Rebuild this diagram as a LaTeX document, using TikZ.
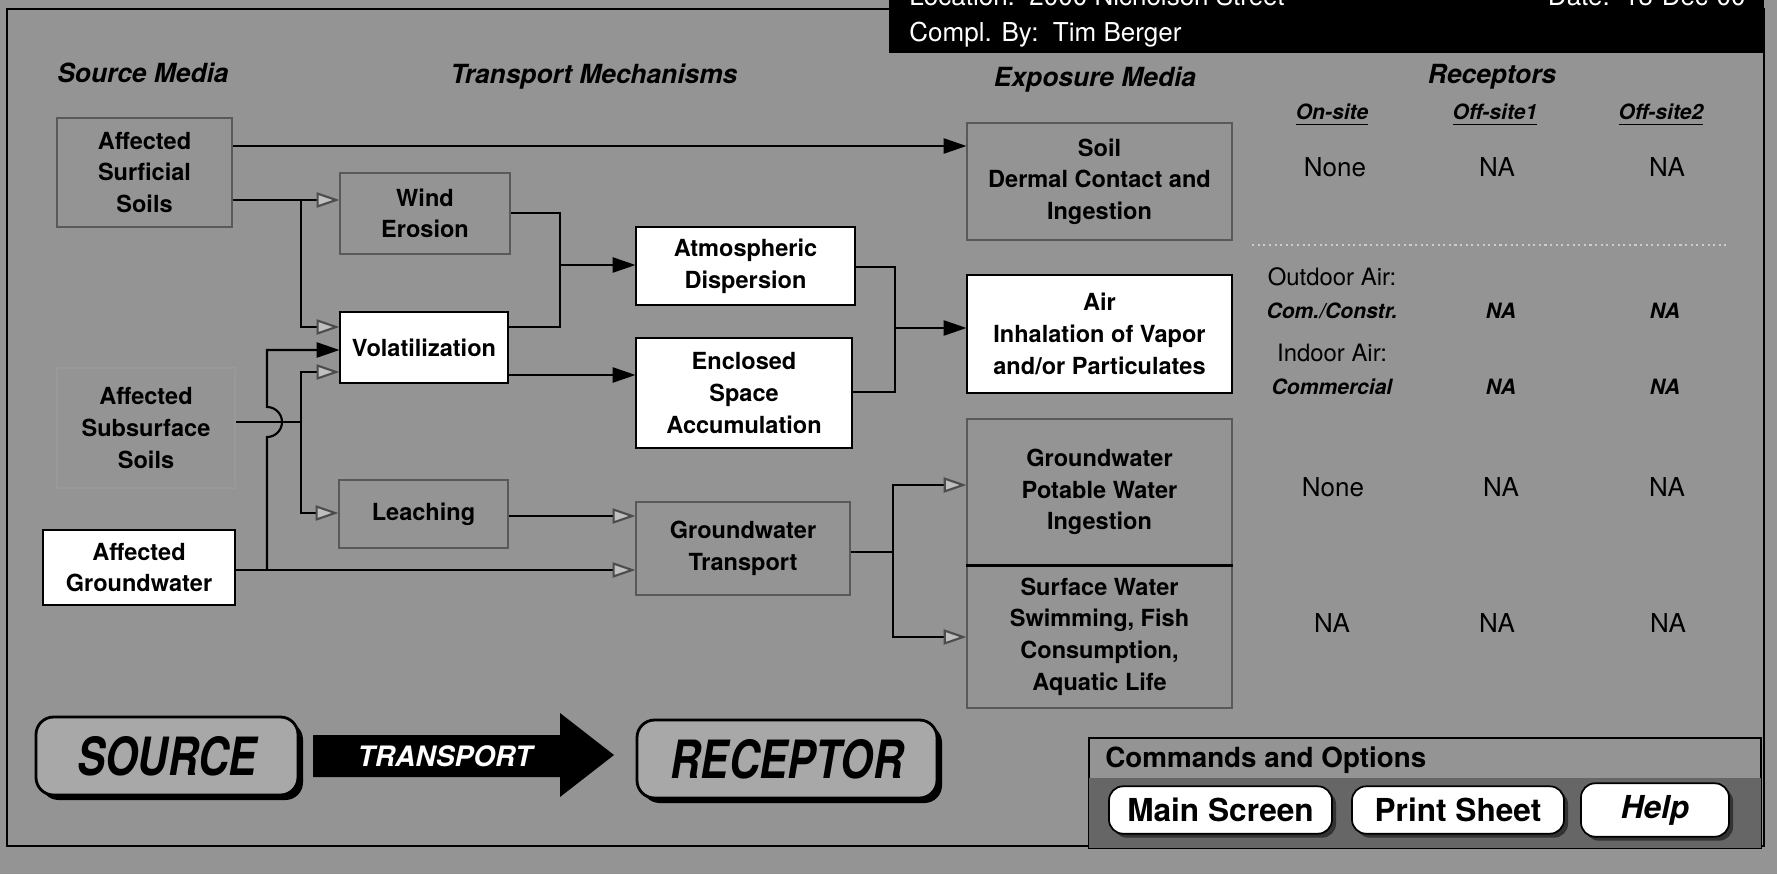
\documentclass[tikz,border=0pt]{standalone}
\usepackage{fontspec}
\setmainfont{TeX Gyre Heros}
\usepackage{graphicx}
\usetikzlibrary{arrows.meta,shadows}

\definecolor{screen}{gray}{0.58}
\definecolor{panel}{gray}{0.40}
\definecolor{raised}{gray}{0.66}
\newcommand\lbl{\fontsize{6.7}{9}\selectfont\bfseries}
\newcommand\hdr{\fontsize{7.5}{9}\selectfont\bfseries\itshape}
\newcommand\cell{\fontsize{7.4}{9}\selectfont}
\newcommand\cellbi{\fontsize{6}{7}\selectfont\bfseries\itshape}
\newcommand\bigit{\fontsize{15}{17}\selectfont\bfseries\itshape}

\begin{document}
\begin{tikzpicture}
    [x=0.1mm,y=-0.1mm,font=\lbl,
      box/.style={draw=black!65,line width=0.3pt,align=center,inner sep=0pt},
      wbox/.style={box,draw=black,fill=white},
      link/.style={line width=0.6pt},
      blk/.style={link,-{Triangle[length=6.5pt,width=4.3pt]}},
      gry/.style={link,-{Triangle[length=6.5pt,width=4.3pt,color=black!70,fill=black!25]}},
      slab/.style={draw,line width=0.8pt,rounded corners=5pt,fill=raised,
        drop shadow={shadow xshift=0.5mm,shadow yshift=-0.5mm,fill=black,opacity=1}},
      btn/.style={draw,line width=0.5pt,rounded corners=4pt,fill=white,minimum height=4mm,
        font=\fontsize{9}{10}\selectfont\bfseries,
        drop shadow={shadow xshift=0.4mm,shadow yshift=-0.4mm,fill=black!80,opacity=1}}
    ]

    \clip (0,0) rectangle (1777,874);
    \fill[screen] (0,0) rectangle (1777,874);
    \draw[line width=0.4pt] (7,9) rectangle (1764,846);

    % header bar
    \fill (889,-5) rectangle (1764,53);
    \node[anchor=base west,text=white,font=\cell] (loc) at (897,6) {Location:\ \ 2000 Nicholson Street};
    \node[anchor=base east,text=white,font=\cell] (date) at (1758,6) {Date:\ \ 13-Dec-00};
    \node[anchor=base west,text=white,font=\cell] (compl) at (897,42) {Compl. By:\ \ Tim Berger};

    \node[font=\hdr] (srchdr) at (143,73) {Source Media};
    \node[font=\hdr] (trhdr) at (594,77) {Transport Mechanisms};
    \node[font=\hdr] (exhdr) at (1095,80) {Exposure Media};
    \node[font=\hdr] (rchdr) at (1492,77) {Receptors};
    \node[font=\cellbi] (onsite) at (1332,115) {\underline{On-site}};
    \node[font=\cellbi] (off1) at (1495,115) {\underline{Off-site1}};
    \node[font=\cellbi] (off2) at (1661,115) {\underline{Off-site2}};

    % source media
    \node[box,minimum width=17.5mm,minimum height=10.9mm] (surf) at (144.5,172.5) {Affected\\Surficial\\Soils};
    \node[box,draw=black!40,minimum width=17.8mm,minimum height=12mm] (subs) at (146,428) {Affected\\Subsurface\\Soils};
    \node[wbox,minimum width=19.2mm,minimum height=7.5mm] (gw) at (139,567.5) {Affected\\Groundwater};

    % transport mechanisms
    \node[box,minimum width=17mm,minimum height=8.1mm] (we) at (425,213.5) {Wind\\Erosion};
    \node[wbox,minimum width=16.8mm,minimum height=7.1mm] (vol) at (424,347.5) {Volatilization};
    \node[box,minimum width=16.9mm,minimum height=6.8mm] (leach) at (423.5,514) {Leaching};
    \node[wbox,minimum width=21.9mm,minimum height=7.8mm] (atm) at (745.5,266) {Atmospheric\\Dispersion};
    \node[wbox,minimum width=21.6mm,minimum height=11mm] (encl) at (744,393) {Enclosed\\Space\\Accumulation};
    \node[box,minimum width=21.4mm,minimum height=9.3mm] (gwt) at (743,548.5) {Groundwater\\Transport};

    % exposure media
    \node[box,minimum width=26.5mm,minimum height=11.7mm] (soil) at (1099.5,181.5) {Soil\\Dermal Contact and\\Ingestion};
    \node[wbox,minimum width=26.5mm,minimum height=11.8mm] (air) at (1099.5,334) {Air\\Inhalation of Vapor\\and/or Particulates};
    \node[box,minimum width=26.5mm,minimum height=14.6mm] (gwe) at (1099.5,492) {Groundwater\\Potable Water\\Ingestion};
    \node[box,minimum width=26.5mm,minimum height=14.3mm] (sw) at (1099.5,636.5) {Surface Water\\Swimming, Fish\\Consumption,\\Aquatic Life};
    \draw[line width=0.6pt] (gwe.south west) -- (gwe.south east);

    % junctions
    \coordinate (jtop) at (600,146);
    \coordinate (jw) at (301,200);
    \coordinate (jv1) at (301,327);
    \coordinate (je) at (560,213);
    \coordinate (ja) at (560,265);
    \coordinate (jv2) at (560,327);
    \coordinate (jx) at (600,375);
    \coordinate (jd) at (895,267);
    \coordinate (jair) at (895,328);
    \coordinate (jenc) at (895,392);
    \coordinate (js) at (301,422);
    \coordinate (jv3) at (301,372);
    \coordinate (jl) at (301,513);
    \coordinate (jlo) at (560,516);
    \coordinate (jg) at (267,570);
    \coordinate (jh) at (267,437);
    \coordinate (jv4) at (267,350);
    \coordinate (jt) at (893,552);
    \coordinate (jgw) at (893,485);
    \coordinate (jsw) at (893,637);

    \draw[blk] (surf.east |- jtop) -- (soil.west |- jtop);
    \draw[gry] (surf.east |- jw) -- (we.west |- jw);
    \draw[gry] (jw) -- (jv1) -- (vol.west |- jv1);
    \draw[link] (we.east |- je) -- (je) -- (jv2) -- (vol.east |- jv2);
    \draw[blk] (ja) -- (atm.west |- ja);
    \draw[blk] (vol.east |- jx) -- (encl.west |- jx);
    \draw[link] (atm.east |- jd) -- (jd) -- (jenc) -- (encl.east |- jenc);
    \draw[blk] (jair) -- (air.west |- jair);
    \draw[link] (subs.east |- js) -- (js);
    \draw[gry] (js) -- (jv3) -- (vol.west |- jv3);
    \draw[gry] (js) -- (jl) -- (leach.west |- jl);
    \draw[gry] (gw.east |- jg) -- (gwt.west |- jg);
    \draw[blk] (jg) -- (jh) arc[start angle=-90,end angle=90,radius=1.5mm] -- (jv4) -- (vol.west |- jv4);
    \draw[gry] (leach.east |- jlo) -- (gwt.west |- jlo);
    \draw[link] (gwt.east |- jt) -- (jt);
    \draw[gry] (jt) -- (jgw) -- (gwe.west |- jgw);
    \draw[gry] (jt) -- (jsw) -- (sw.west |- jsw);

    % receptors
    \node[font=\cell] (soilon) at (1335,167) {None};
    \node[font=\cell] (soiloff1) at (1497,167) {NA};
    \node[font=\cell] (soiloff2) at (1667,167) {NA};
    \draw[white!80!black,densely dotted,line width=0.6pt] (1252,245) -- (1727,245);
    \node[font=\fontsize{6.8}{8}\selectfont] (outdoor) at (1332,277) {Outdoor Air:};
    \node[font=\cellbi] (outon) at (1332,311) {Com./Constr.};
    \node[font=\cellbi] (outoff1) at (1501,311) {NA};
    \node[font=\cellbi] (outoff2) at (1665,311) {NA};
    \node[font=\fontsize{6.8}{8}\selectfont] (indoor) at (1332,353) {Indoor Air:};
    \node[font=\cellbi] (inon) at (1332,387) {Commercial};
    \node[font=\cellbi] (inoff1) at (1501,387) {NA};
    \node[font=\cellbi] (inoff2) at (1665,387) {NA};
    \node[font=\cell] (gwon) at (1333,487) {None};
    \node[font=\cell] (gwoff1) at (1501,487) {NA};
    \node[font=\cell] (gwoff2) at (1667,487) {NA};
    \node[font=\cell] (swon) at (1332,623) {NA};
    \node[font=\cell] (swoff1) at (1497,623) {NA};
    \node[font=\cell] (swoff2) at (1668,623) {NA};

    % source -> transport -> receptor
    \node[slab,minimum width=26.2mm,minimum height=7.8mm] (source) at (167,756) {\bigit\scalebox{0.8}[1]{SOURCE}};
    \fill (313,735) -- (560,735) -- (560,713) -- (614,755) -- (560,797) -- (560,777) -- (313,777) -- cycle;
    \node[text=white,font=\fontsize{8}{9}\selectfont\bfseries\itshape] (transport) at (445,756) {TRANSPORT};
    \node[slab,minimum width=30mm,minimum height=7.8mm] (receptor) at (787,759) {\bigit\scalebox{0.8}[1]{RECEPTOR}};

    % commands
    \draw[line width=0.4pt] (1089,738) rectangle (1761,848);
    \fill[panel] (1089,778) rectangle (1761,848);
    \node[anchor=west,font=\fontsize{7.9}{9}\selectfont\bfseries] (cmds) at (1093,760) {Commands and Options};
    \node[btn,minimum width=22.3mm] (mainbtn) at (1220.5,810) {Main Screen};
    \node[btn,minimum width=21.2mm] (printbtn) at (1458,810) {Print Sheet};
    \node[btn,minimum width=14.8mm,font=\fontsize{9}{10}\selectfont\bfseries\itshape] (helpbtn) at (1655,810) {Help};
  \end{tikzpicture}
\end{document}
